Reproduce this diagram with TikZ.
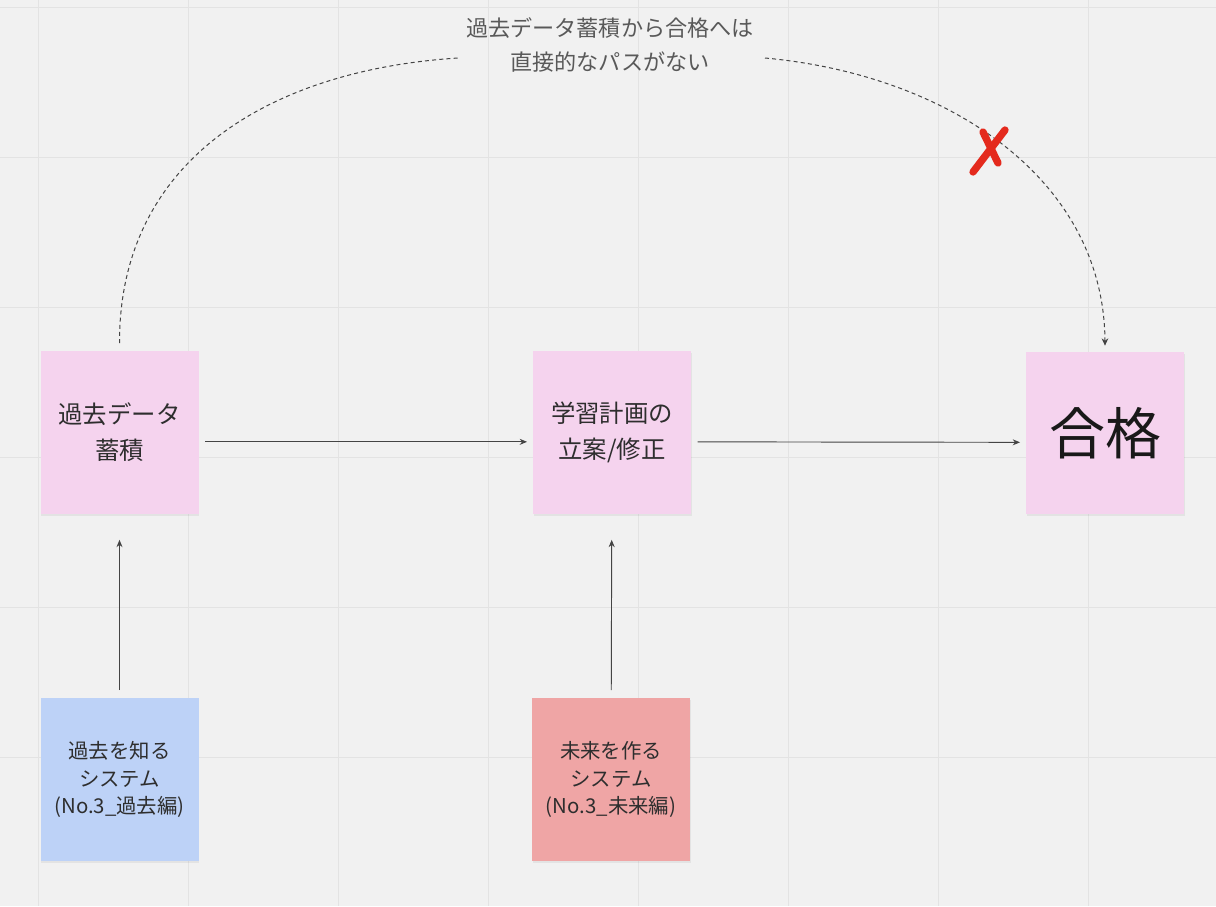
\documentclass[tikz,border=0pt]{standalone}
\usepackage{fontspec}
\setmainfont{Noto Sans CJK JP}
\usetikzlibrary{arrows.meta,shadows}

\definecolor{boardbg}{HTML}{F1F1F1}
\definecolor{gridcol}{HTML}{E3E3E3}
\definecolor{notepink}{HTML}{F5D3EE}
\definecolor{noteblue}{HTML}{BDD2F7}
\definecolor{notered}{HTML}{EFA5A5}
\definecolor{inkcol}{HTML}{2E2E2E}
\definecolor{linecol}{HTML}{444444}
\definecolor{crossred}{HTML}{E42A1D}

\begin{document}
\begin{tikzpicture}[x=0.75pt,y=-0.75pt,
  note/.style={minimum width=118.5pt,minimum height=122pt,inner sep=0pt,outer sep=0pt,
    align=center,text=inkcol,
    drop shadow={opacity=0.12,shadow xshift=0.6pt,shadow yshift=-1.4pt}},
  midtext/.style={font=\fontsize{18.3}{27}\selectfont},
  smalltext/.style={font=\fontsize{15.3}{20.6}\selectfont},
  flow/.style={draw=linecol,line width=0.7pt,-{Stealth[length=5.5pt,width=4.5pt]}},
  nopath/.style={draw=linecol,line width=0.75pt,dash pattern=on 3pt off 2.4pt,
    -{Stealth[length=5.5pt,width=5pt]}},
  crossmark/.style={draw=crossred,line width=5.5pt,line cap=round}]
% Board
\fill[boardbg] (0,0) rectangle (1216,906);
\useasboundingbox (0,0) rectangle (1216,906);
% Grid
\foreach \x in {38,188,...,1088}
  \draw[gridcol, line width=0.7pt] (\x,0) -- (\x,906);
\foreach \y in {7,157,...,757}
  \draw[gridcol, line width=0.7pt] (0,\y) -- (1216,\y);

% Notes
\node[note, fill=notepink, midtext] (store) at (119.5,432.5) {過去データ\\蓄積};
\node[note, fill=notepink, midtext] (plan) at (612,432.5) {学習計画の\\立案/修正};
\node[note, fill=notepink, text=black!90, font=\fontsize{42}{50}\selectfont] (pass) at (1105,433) {合格};
\node[note, fill=noteblue, smalltext] (past) at (119.5,779.5) {過去を知る\\システム\\(No.3\_過去編)};
\node[note, fill=notered, smalltext] (future) at (611,779.5) {未来を作る\\システム\\(No.3\_未来編)};

% Label over the curve
\node[align=center, text=black!65, font=\fontsize{16.6}{26}\selectfont] (gap) at (610,45)
  {過去データ蓄積から合格へは\\直接的なパスがない};
\coordinate (gapin) at (458,58);
\coordinate (gapout) at (765,58);

% Flow
\draw[flow, shorten <=5pt, shorten >=4.5pt] ([yshift=-7pt]store.east) -- ([yshift=-7pt]plan.west);
\draw[flow, shorten <=5pt, shorten >=4.5pt] ([yshift=-7pt]plan.east) -- ([yshift=-7pt]pass.west);
\draw[flow, shorten <=6pt, shorten >=19.5pt] (past) -- (store);
\draw[flow, shorten <=6pt, shorten >=19.5pt] (future) -- (plan);

% No direct path
\draw[nopath, -] ([yshift=6pt]store.north) .. controls (119,160) and (270,70) .. (gapin);
\draw[nopath] (gapout) .. controls (950,75) and (1104,180) .. ([yshift=4.5pt]pass.north);
\draw[crossmark] (983,132) -- (998,163);
\draw[crossmark] (1005,130) -- (973,172);
\end{tikzpicture}
\end{document}
